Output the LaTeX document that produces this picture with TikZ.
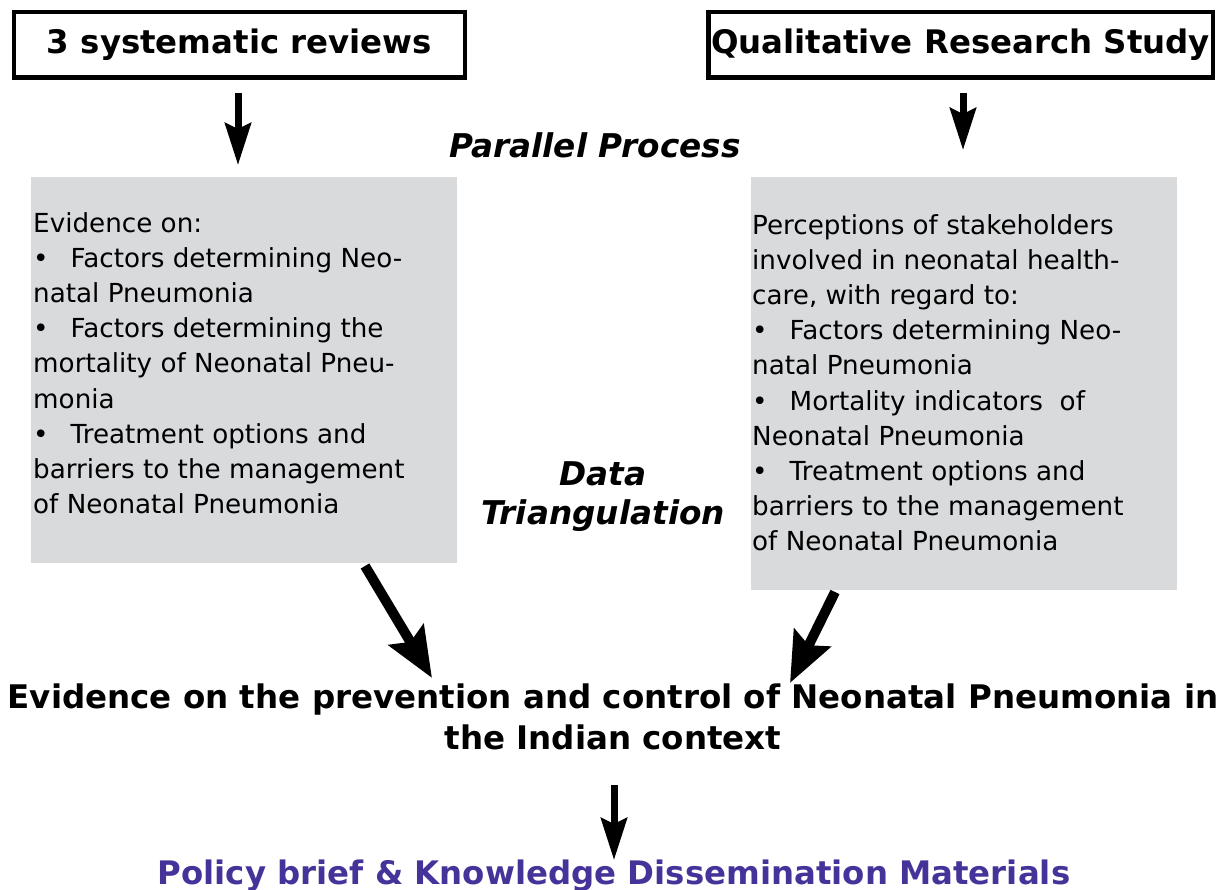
\documentclass[tikz,border=0pt]{standalone}
\usepackage{fontspec}
\setmainfont{DejaVu Sans}
\usetikzlibrary{arrows.meta}
\definecolor{boxgray}{HTML}{D9DADC}
\definecolor{policy}{HTML}{46339A}
\tikzset{
  titlebox/.style={draw=black, line width=4.5pt, fill=white, inner sep=0pt,
    font=\fontsize{32.4}{37}\selectfont\bfseries},
  graybox/.style={fill=boxgray, draw=none, inner sep=0pt, anchor=north west},
  bodytext/.style={anchor=north west, align=left, inner sep=0pt,
    font=\fontsize{26.2}{35.2}\selectfont},
  labeltext/.style={align=center, inner sep=0pt,
    font=\fontsize{32.7}{39}\selectfont\bfseries\itshape},
  resulttext/.style={align=center, inner sep=0pt,
    font=\fontsize{32.5}{41}\selectfont\bfseries},
  varrow/.style={line width=7pt, -{Stealth[length=42pt, width=26pt, inset=6pt]}},
  darrow/.style={line width=10pt, -{Stealth[length=50pt, width=40pt, inset=8pt]}},
}
\newcommand{\bul}{\textbullet\hspace{22pt}}
\begin{document}
\begin{tikzpicture}[x=1pt, y=-1pt]
\useasboundingbox (0,0) rectangle (1226,890);

\node[titlebox, minimum width=451pt, minimum height=65.5pt] (sr) at (239.5,45) {3 systematic reviews};
\node[titlebox, minimum width=504.5pt, minimum height=65.5pt] (qr) at (960.5,45) {Qualitative Research Study};

\node[labeltext] (pp) at (595,145) {Parallel Process};

\node[graybox, minimum width=426pt, minimum height=386pt] (g1) at (31,177) {};
\node[graybox, minimum width=426pt, minimum height=413pt] (g2) at (751,177) {};

\node[bodytext] (t1) at (33,212) {Evidence on:\\
\bul Factors determining Neo-\\
natal Pneumonia\\
\bul Factors determining the\\
mortality of Neonatal Pneu-\\
monia\\
\bul Treatment options and\\
barriers to the management\\
of Neonatal Pneumonia};

\node[bodytext] (t2) at (752,214) {Perceptions of stakeholders\\
involved in neonatal health-\\
care, with regard to:\\
\bul Factors determining Neo-\\
natal Pneumonia\\
\bul Mortality indicators\ \ of\\
Neonatal Pneumonia\\
\bul Treatment options and\\
barriers to the management\\
of Neonatal Pneumonia};

\node[labeltext] (dt) at (603,497) {Data\\Triangulation};

\node[resulttext] (res) at (613,717) {Evidence on the prevention and control of Neonatal Pneumonia in\\the Indian context};

\node[inner sep=0pt, text=policy, font=\fontsize{32.4}{35}\selectfont\bfseries] (pb) at (614,876) {Policy brief \& Knowledge Dissemination Materials};

\draw[varrow, shorten <=13pt] (sr.south -| 238,0) -- (238,165);
\draw[varrow, shorten <=13pt] (qr.south -| 963,0) -- (963,150);

\coordinate (d1s) at (365,566);
\coordinate (d1e) at (432,678);
\coordinate (d2s) at (835,592);
\coordinate (d2e) at (790,683);
\draw[darrow] (d1s) -- (d1e);
\draw[darrow] (d2s) -- (d2e);

\coordinate (v3s) at (614,785);
\draw[varrow] (v3s) -- (614,860);
\end{tikzpicture}
\end{document}
